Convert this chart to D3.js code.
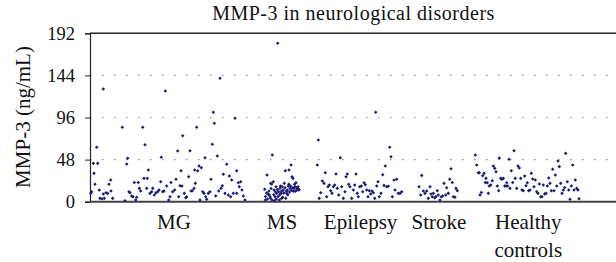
<!DOCTYPE html>
<html>
<head>
<meta charset="utf-8">
<script src="https://cdn.jsdelivr.net/npm/d3@7"></script>
<style>
  html, body { margin: 0; padding: 0; background: #fff; }
</style>
</head>
<body>
<div id="chart"></div>
<script>
const W = 616, H = 262;
const margin = { top: 33.3, right: -4, bottom: 60.3, left: 90 };
const width = W - margin.left - margin.right;
const height = H - margin.top - margin.bottom;
const serif = "'Liberation Serif', 'Times New Roman', serif";

const titleText = "MMP-3 in neurological disorders";
const yLabel = "MMP-3 (ng/mL)";
const yTicks = [0, 48, 96, 144, 192];
const gridTicks = [48, 96, 144];

// group label positions along the sample-position axis
const categories = ["MG", "MS", "Epilepsy", "Stroke", "Healthy controls"];
const categoryPos = [84, 192, 270.6, 349, 438.3];

// [sample position, MMP-3 value]
const mgData = [
  [0.7, 9.5], [1.7, 11.4], [3.3, 43.7], [4, 32.3], [5, 19.8], [6.7, 62], [7.7, 43.7], [9.3, 13.3],
  [10, 3.8], [12, 3.4], [13.3, 128.5], [13.3, 8.7], [14.3, 3.8], [16, 10.3], [17.7, 9.5], [19, 19.8],
  [20.7, 24.7], [21, 12.2], [22.7, 3.8], [32.3, 84.8], [35, 1], [36.7, 43], [37.7, 49.5], [39, 11.4],
  [40, 10.3], [41.7, 6.5], [43, 5.7], [44.3, 22], [45.7, 1.9], [46.7, 5], [48.3, 22], [49.3, 15.2],
  [50.7, 12.2], [52.7, 84.8], [54, 26.6], [55, 65], [56.7, 15.2], [57.3, 26.6], [58.3, 36.1], [60, 9.5],
  [61.7, 11.4], [62.7, 15.2], [64.3, 7.6], [66, 10.3], [67.7, 11.4], [69, 13.3], [70.7, 22.8], [71.3, 50.6],
  [72.7, 11.4], [74, 12.2], [75.3, 126.2], [76.7, 17.9], [78.7, 1.9], [80, 5.7], [81, 22], [82.7, 11.4],
  [84.7, 13.3], [86, 25.5], [87.7, 57.8], [88.7, 5.7], [90, 18.2], [91, 35.3], [92, 17.9], [92.7, 75.2],
  [94.3, 9.5], [95.7, 4.6], [96.7, 5.7], [98.7, 28.5], [100, 58.1], [101, 12.2], [102.3, 12.5], [104, 15.2],
  [104.7, 36.1], [105.3, 20.9], [106.7, 84.8], [107.7, 35.3], [109, 40.7], [110, 1.9], [111.3, 38.8], [112.7, 11.4],
  [114, 9.5], [115, 50.2], [115.7, 5.7], [116.7, 2.7], [118.3, 9.5], [120, 11.4], [121, 25.5], [122.3, 65.4],
  [123.3, 101.9], [124.3, 89.4], [125.7, 6.5], [127.3, 52.1], [128.7, 12.2], [130, 140.7], [131, 15.2], [132.3, 18.2],
  [133.3, 31.2], [135, 9.5], [136.7, 42.6], [138.3, 7.6], [139.3, 29.3], [140.7, 5.7], [141.7, 24.7], [143.3, 9.5],
  [145, 95.1], [146.7, 9.5], [146.7, 35.3], [148.3, 21.7], [149.3, 17.1], [150.7, 22.8], [152, 13.3], [153.3, 6.5],
  [155, 1.9]
];

const msData = [
  [174.7, 14.1], [175.3, 1.9], [175.5, 6], [176.5, 10], [177, 30.4], [177.5, 3], [178.3, 8.4], [178.8, 12],
  [179.3, 7.6], [180, 5.7], [180.5, 4], [180.7, 20.9], [181, 15], [181.7, 20.1], [182, 2], [182.3, 53.2],
  [183.3, 22.8], [183.8, 8], [184, 13.3], [184.5, 1], [185, 5.7], [185.5, 11], [186, 17.1], [186.3, 3],
  [186.7, 9.5], [187.3, 14], [187.7, 180.6], [188, 6], [188.7, 11.4], [189.3, 2], [189.8, 8], [190, 15.2],
  [190.5, 18], [191, 9.5], [191.5, 12], [191.7, 3.8], [192.3, 17.1], [192.8, 5], [193.3, 13.3], [193.8, 10],
  [194.3, 20.9], [195, 16], [195.3, 35.3], [195.8, 4], [196.3, 12], [196.7, 9.5], [197.3, 13.3], [197.8, 8],
  [198.3, 17.9], [198.8, 20], [199, 36.1], [199.5, 11], [200, 15.2], [200.5, 18], [201, 41.8], [201.5, 13],
  [202, 28.5], [202.5, 16], [203, 26.6], [203.5, 12], [204, 15.2], [204.5, 20], [205, 17.1], [205.5, 12],
  [206, 21.7], [206.7, 13.3], [207, 16], [207.7, 15.2], [208, 17], [208.7, 13.3], [209, 14]
];

const epilepsyData = [
  [227.3, 41.8], [228.3, 70.3], [229.3, 3.8], [230.7, 10.3], [232.3, 23.6], [234, 20.9], [235.3, 33.1], [236.7, 5.7],
  [238, 17.1], [239.3, 19], [240.7, 12.5], [242, 9.5], [243.3, 17.1], [244.7, 19], [246, 31.6], [247.3, 15.2],
  [248.7, 7.6], [250.3, 50.2], [251.7, 17.1], [253.3, 3.8], [255, 11.4], [256, 28.5], [257.3, 31.6], [258.7, 19.8],
  [260, 17.1], [261.7, 3.8], [263.3, 13.3], [264.7, 19], [266, 31.6], [267.3, 9.5], [268.3, 5.7], [269.7, 17.1],
  [271.3, 17.9], [272.7, 11.4], [274, 21.7], [275.3, 19.4], [276.7, 13.3], [278, 5.7], [279.3, 12.5], [280.7, 8.7],
  [282, 12.2], [283.3, 10.3], [284.7, 3.8], [285.7, 101.9], [286.7, 17.9], [288, 22.8], [289.3, 5.7], [291, 9.5],
  [292.7, 30.8], [294, 18.6], [295.3, 40.7], [296.7, 17.1], [298.3, 17.5], [299.7, 62], [301, 51.3], [302.3, 5.7],
  [304, 24.7], [305, 13.3], [306.7, 25.5], [308.3, 9.5], [310, 9.5], [311.7, 11.4]
];

const strokeData = [
  [329, 17.1], [330.7, 7.6], [331.7, 30], [333.3, 12.2], [335, 9.5], [336.7, 12.2], [338.3, 3.8], [340, 17.1],
  [341, 8.7], [342.3, 5.7], [343.3, 9.5], [344.7, 4.6], [346, 5.7], [347.3, 12.5], [348.3, 7.6], [350, 1.9],
  [351.3, 5.7], [352.7, 6.5], [354, 20.9], [355.7, 7.6], [356.7, 16], [358.3, 9.5], [359.7, 25.5], [361, 37.6],
  [362.3, 22], [363.3, 5.7], [365, 5], [366, 15.2], [367.3, 12.5]
];

const healthyData = [
  [385.3, 53.2], [386.7, 41.8], [388.3, 33.1], [389.3, 33.1], [390, 7.6], [391.3, 10.6], [392.7, 29.6], [394, 32.3],
  [395.3, 22], [396, 26.6], [397.3, 21.7], [398.3, 9.5], [399.3, 17.9], [400.7, 19], [402.3, 23.9], [403.3, 40.7],
  [404.7, 38], [406, 34.2], [407.3, 17.9], [408.7, 12.5], [409.3, 49.8], [410.7, 26.6], [411.7, 25.5], [413.3, 26.6],
  [414.7, 17.9], [416, 17.9], [416.7, 21.7], [417.7, 17.9], [419, 48.3], [420, 15.2], [421.3, 35.3], [422.7, 22],
  [424, 58.1], [425.3, 26.6], [426.7, 15.2], [428, 40.7], [429.3, 38.4], [430.7, 26.6], [432, 13.3], [433.3, 12.5],
  [434.7, 29.3], [436, 18.2], [437.3, 21.7], [438.7, 12.5], [440, 13.3], [441.3, 32.3], [442.7, 25.8], [444, 17.1],
  [445.3, 24.7], [446.7, 11.4], [448, 9.5], [449.3, 20.1], [450.7, 5.7], [452, 5.7], [453.3, 19], [454.7, 8.7],
  [456, 9.5], [457.3, 17.9], [458.7, 27], [460, 20.9], [461.3, 12.5], [462.7, 36.9], [464, 12.5], [465.3, 30.4],
  [466.7, 17.9], [468, 46.4], [469.3, 40], [470.7, 20.9], [472, 9.5], [473.3, 13.3], [474.7, 16.3], [475.7, 55.1],
  [477.3, 22.8], [478.7, 13.3], [480, 2.7], [481.3, 17.9], [482.7, 41.8], [484, 13.3], [485.3, 24.7], [486.7, 15.2],
  [488, 13.3], [489, 3.4]
];

const allPoints = [...mgData, ...msData, ...epilepsyData, ...strokeData, ...healthyData];

const svg = d3.select("#chart").append("svg")
  .attr("width", W)
  .attr("height", H)
  .style("display", "block");

const g = svg.append("g")
  .attr("transform", `translate(${margin.left},${margin.top})`);

const x = d3.scaleLinear().domain([0, 530]).range([0, width]);
const y = d3.scaleLinear().domain([0, 192]).range([height, 0]);

// dotted gridlines
g.selectAll(".grid")
  .data(gridTicks)
  .enter()
  .append("line")
  .attr("x1", 0)
  .attr("x2", width)
  .attr("y1", d => y(d))
  .attr("y2", d => y(d))
  .attr("stroke", "#8a8a8a")
  .attr("stroke-width", 1.2)
  .attr("stroke-dasharray", "1.5,10.5");

// top border
g.append("line")
  .attr("x1", 0).attr("x2", width)
  .attr("y1", y(192)).attr("y2", y(192))
  .attr("stroke", "#222")
  .attr("stroke-width", 1.5);

// y axis
const yAxis = g.append("g")
  .call(d3.axisLeft(y).tickValues(yTicks).tickSize(5).tickPadding(10));
yAxis.attr("font-family", serif);
yAxis.select(".domain").attr("stroke", "#222").attr("stroke-width", 1.2);
yAxis.selectAll(".tick line").attr("stroke", "#222");
yAxis.selectAll(".tick text")
  .attr("fill", "#111")
  .attr("font-family", serif)
  .attr("font-size", 18.5);

// bottom axis line
g.append("line")
  .attr("x1", 0).attr("x2", width)
  .attr("y1", y(0)).attr("y2", y(0))
  .attr("stroke", "#444")
  .attr("stroke-width", 2);

// points (small square diamonds)
const marker = d3.symbol().type(d3.symbolDiamond2 || d3.symbolDiamond).size(8);
g.selectAll(".pt")
  .data(allPoints)
  .enter()
  .append("path")
  .attr("class", "pt")
  .attr("d", marker)
  .attr("transform", d => `translate(${x(d[0])},${y(d[1])})`)
  .attr("fill", "#1c1c72");

// category labels
const catLabels = g.selectAll(".cat")
  .data(categories)
  .enter()
  .append("text")
  .attr("class", "cat")
  .attr("text-anchor", "middle")
  .attr("x", (d, i) => x(categoryPos[i]))
  .attr("y", height + 27)
  .attr("font-family", serif)
  .attr("font-size", 21)
  .attr("fill", "#111");

catLabels.each(function(d) {
  const words = d.split(" ");
  const t = d3.select(this);
  words.forEach((w, i) => {
    t.append("tspan")
      .attr("x", t.attr("x"))
      .attr("dy", i === 0 ? 0 : 28)
      .text(w);
  });
});

// title
svg.append("text")
  .attr("x", 353.5)
  .attr("y", 19.5)
  .attr("text-anchor", "middle")
  .attr("font-family", serif)
  .attr("font-size", 20)
  .attr("letter-spacing", 0.5)
  .attr("fill", "#111")
  .text(titleText);

// y label
svg.append("text")
  .attr("transform", `translate(29.5,${margin.top + height / 2 - 0.5}) rotate(-90)`)
  .attr("text-anchor", "middle")
  .attr("font-family", serif)
  .attr("font-size", 21)
  .attr("fill", "#111")
  .text(yLabel);
</script>
</body>
</html>
